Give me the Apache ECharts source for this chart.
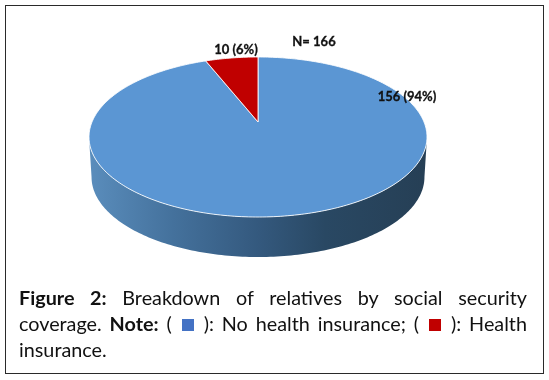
<!DOCTYPE html>
<html>
<head>
<meta charset="utf-8">
<script src="https://cdn.jsdelivr.net/npm/echarts@6/dist/echarts.min.js"></script>
<style>
  html, body { margin: 0; padding: 0; background: #fff; }
  #frame { position: absolute; left: 5px; top: 5px; width: 539px; height: 369px; border: 1.5px solid #2a2a2a; box-sizing: border-box; }
  #chart { position: absolute; left: 0; top: 0; width: 549px; height: 380px; }
  #caption { position: absolute; left: 19px; top: 284px; width: 508px; font: 19.8px/26px Lato, sans-serif; color: #111; }
  #caption div { text-align: justify; text-align-last: justify; white-space: nowrap; }
  #caption div:last-child { text-align-last: left; }
  .box { display: inline-block; width: 12px; height: 12px; margin: 0 2px; }
</style>
</head>
<body>
<div id="frame"></div>
<div id="chart"></div>
<div id="caption">
  <div><b>Figure 2:</b> Breakdown of relatives by social security</div>
  <div>coverage. <b>Note:</b> ( <span class="box" style="background:#4472c4"></span> ): No health insurance; ( <span class="box" style="background:#c00000"></span> ): Health</div>
  <div>insurance.</div>
</div>
<script>
const categories = ['No health insurance', 'Health insurance'];
const counts = [156, 10];
const shares = ['94%', '6%'];
const sampleLabel = 'N= 166';
const sliceColors = ['#5b96d3', '#c00000'];

// perspective of the tilted disc
const cx = 258, cy = 122, rx = 166, ry = 77.2, tilt = 0.1875, depth = 40;
const labelPos = [[407, 97], [236, 50]];
const labelStyle = { align: 'center', verticalAlign: 'middle', font: 'bold 13px Lato, sans-serif', fill: '#111', stroke: '#111', lineWidth: 0.3 };

const total = counts.reduce((a, b) => a + b, 0);
let acc = 0;
const ranges = counts.map(v => {
  const r = [acc / total * 360, (acc + v) / total * 360];
  acc += v;
  return r;
});

function project(deg) {
  const t = deg * Math.PI / 180;
  const w = 1 + tilt * Math.cos(t);
  return [cx + rx * Math.sin(t) / w, cy - ry * Math.cos(t) / w];
}

function arc(from, to) {
  const pts = [];
  const n = Math.max(2, Math.ceil(to - from));
  for (let i = 0; i <= n; i++) pts.push(project(from + (to - from) * i / n));
  return pts;
}

// only this part of the rim faces the viewer
const frontFrom = Math.acos(-tilt) * 180 / Math.PI;
const frontTo = 360 - frontFrom;

const sideFill = new echarts.graphic.LinearGradient(0, 0, 1, 0, [
  { offset: 0, color: '#5a8dbc' },
  { offset: 0.25, color: '#44719c' },
  { offset: 0.5, color: '#34597e' },
  { offset: 0.7, color: '#294863' },
  { offset: 1, color: '#263f55' }
]);

const chart = echarts.init(document.getElementById('chart'));
chart.setOption({
  animation: false,
  series: [
    {
      type: 'custom',
      coordinateSystem: 'none',
      silent: true,
      data: counts.map((v, i) => [i, v]),
      renderItem: (params, api) => {
        const r = ranges[api.value(0)];
        const from = Math.max(r[0], frontFrom);
        const to = Math.min(r[1], frontTo);
        if (to <= from) return null;
        const top = arc(from, to);
        const bottom = top.map(p => [cx + (p[0] - cx) * 0.985, p[1] + depth]).reverse();
        return { type: 'polygon', shape: { points: top.concat(bottom) }, style: { fill: sideFill } };
      }
    },
    {
      type: 'custom',
      coordinateSystem: 'none',
      silent: true,
      data: counts.map((v, i) => [i, v]),
      renderItem: (params, api) => {
        const i = api.value(0);
        const r = ranges[i];
        return {
          type: 'group',
          children: [
            {
              type: 'polygon',
              shape: { points: [[cx, cy]].concat(arc(r[0], r[1])) },
              style: { fill: sliceColors[i], stroke: 'rgba(255,255,255,0.85)', lineWidth: 1 }
            },
            {
              type: 'text',
              x: labelPos[i][0],
              y: labelPos[i][1],
              style: Object.assign({ text: api.value(1) + ' (' + shares[i] + ')' }, labelStyle)
            }
          ]
        };
      }
    }
  ],
  graphic: [
    {
      type: 'text',
      x: 314,
      y: 42,
      style: Object.assign({ text: sampleLabel }, labelStyle)
    }
  ]
});
</script>
</body>
</html>
